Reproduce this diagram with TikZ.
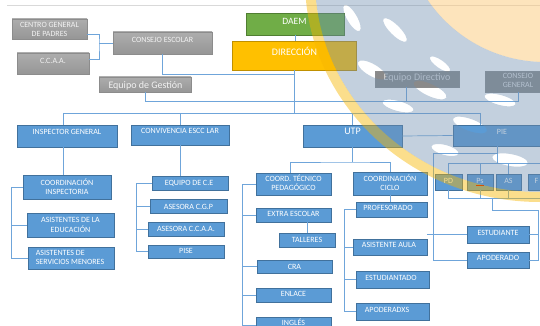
\documentclass[tikz,border=0pt]{standalone}
\usepackage{fontspec}
\setmainfont{Carlito}
\definecolor{bbf}{HTML}{5B9BD5}
\definecolor{bbd}{HTML}{41719C}
\definecolor{lnc}{HTML}{6FA5DA}
\definecolor{gtop}{HTML}{ADADAD}
\definecolor{gbot}{HTML}{969696}
\definecolor{gbd}{HTML}{8C8C8C}
\definecolor{gdk}{HTML}{8A8A8A}
\definecolor{daemc}{HTML}{70AD47}
\definecolor{daemd}{HTML}{507E32}
\definecolor{dirc}{HTML}{FFC000}
\definecolor{dird}{HTML}{C09000}
\definecolor{wmblue}{HTML}{6F8FB0}
\definecolor{wmyel}{HTML}{F7B500}
\definecolor{wmsun}{HTML}{FBC97A}
\definecolor{topln}{HTML}{D9D9D9}
\newcommand\obox[6]{\node[#2, minimum width={(#5)-(#3)}, minimum height={(#6)-(#4)}] (#1) at ({((#3)+(#5))/2},{((#4)+(#6))/2}) {};}
\begin{document}
\begin{tikzpicture}[x=1pt,y=-1pt,
  ln/.style={draw=lnc, line width=0.7pt},
  bbox/.style={draw=bbd, fill=bbf, line width=0.6pt, inner sep=0pt},
  gbox/.style={draw=gbd, top color=gtop, bottom color=gbot, line width=0.4pt, inner sep=0pt},
  dbox/.style={draw=gbd, fill=gdk, line width=0.4pt, inner sep=0pt},
  greenbox/.style={draw=daemd, fill=daemc, line width=0.6pt, inner sep=0pt},
  orangebox/.style={draw=dird, fill=dirc, line width=0.6pt, inner sep=0pt},
  lbl/.style={text=white, inner sep=0pt, font=\fontsize{8}{9.3}\selectfont, align=center, text height=5.1pt, text depth=0pt},
  lbl2/.style={text=white, inner sep=0pt, font=\fontsize{8}{9.3}\selectfont, align=center},
  big/.style={text=white, inner sep=0pt, font=\fontsize{10}{12}\selectfont, text height=6.4pt, text depth=0pt}
]
\useasboundingbox (0,0) rectangle (540,326);
\clip (0,0) rectangle (540,326);
\draw[topln, line width=0.8pt] (7,5) -- (540,5);

% ---------- boxes ----------
\obox{cgp}{gbox}{12}{19}{87}{39}
\obox{ccaa}{gbox}{17}{53}{89}{74}
\obox{ce}{gbox}{113}{32}{212}{54}
\obox{eg}{gbox}{99}{77}{191}{92}
\obox{daem}{greenbox}{246}{13}{344}{35}
\obox{dir}{orangebox}{232}{41}{356}{70}
\obox{ed}{dbox}{375}{71}{459}{87}
\obox{cg}{dbox}{485}{71}{551}{92}
\obox{ig}{bbox}{17}{125}{117}{147}
\obox{cv}{bbox}{131}{125}{229}{145}
\obox{utp}{bbox}{303}{125}{402}{147}
\obox{pie}{bbox}{453}{125}{551}{146}
\obox{ci}{bbox}{23}{175}{111}{199}
\obox{ae}{bbox}{27}{213}{114}{237}
\obox{asm}{bbox}{28}{247}{114}{269}
\obox{ece}{bbox}{152}{176}{228}{190}
\obox{acgp}{bbox}{150}{199}{227}{213}
\obox{acc}{bbox}{148}{222}{224}{236}
\obox{pise}{bbox}{148}{245}{224}{258}
\obox{ctp}{bbox}{256}{173}{331}{195}
\obox{cc}{bbox}{353}{172}{427}{195}
\obox{prof}{bbox}{356}{202}{427}{217}
\obox{ee}{bbox}{256}{208}{331}{222}
\obox{tal}{bbox}{279}{233}{335}{247}
\obox{cra}{bbox}{257}{260}{332}{273}
\obox{enl}{bbox}{256}{288}{331}{302}
\obox{ing}{bbox}{256}{317}{331}{333}
\obox{aa}{bbox}{353}{239}{427}{255}
\obox{est}{bbox}{356}{271}{429}{288}
\obox{apx}{bbox}{356}{303}{429}{320}
\obox{pd}{bbox}{435}{174}{462}{190}
\obox{ps}{bbox}{467}{174}{493}{190}
\obox{as}{bbox}{496}{174}{521}{190}
\obox{fb}{bbox}{528}{174}{560}{190}
\obox{stu}{bbox}{467}{226}{529}{243}
\obox{apo}{bbox}{467}{252}{529}{268}

% ---------- labels ----------
\node[lbl2, text=white!95!black] (cgpT) at (49.5,29.5) {CENTRO GENERAL\\DE PADRES};
\node[lbl, text=white!95!black] (ccaaT) at (53,61) {C.C.A.A.};
\node[lbl, text=white!95!black] (ceT) at (162.5,39.5) {CONSEJO ESCOLAR};
\node[big, text=white!95!black] (egT) at (145.5,85) {Equipo de Gestión};
\node[big, font=\fontsize{9.6}{11}\selectfont] (daemT) at (294.5,21) {DAEM};
\node[big] (dirT) at (294.5,52) {DIRECCIÓN};
\node[big, text=white!85!black] (edT) at (417,77.5) {Equipo Directivo};
\node[lbl2, text=white!90!black] (cgT) at (518,80.7) {CONSEJO\\GENERAL};
\node[lbl] (igT) at (67,132) {INSPECTOR GENERAL};
\node[lbl] (cvT) at (180,131.3) {CONVIVENCIA ESCC LAR};
\node[big] (utpT) at (352.5,131.7) {UTP};
\node[lbl] (pieT) at (502,131.7) {PIE};
\node[lbl2] (ciT) at (67,187) {COORDINACIÓN\\INSPECTORIA};
\node[lbl2] (aeT) at (70.5,225) {ASISTENTES DE LA\\EDUCACIÓN};
\node[lbl2, align=left] (asmT) at (70,257.5) {ASISTENTES DE\\SERVICIOS MENORES};
\node[lbl] (eceT) at (189,183) {EQUIPO DE C.E};
\node[lbl] (acgpT) at (188.5,206.5) {ASESORA C.G.P};
\node[lbl] (accT) at (186,229.3) {ASESORA C.C.A.A.};
\node[lbl] (piseT) at (186,251) {PISE};
\node[lbl2] (ctpT) at (293.5,183) {COORD. TÉCNICO\\PEDAGÓGICO};
\node[lbl2] (ccT) at (390,183) {COORDINACIÓN\\CICLO};
\node[lbl] (profT) at (388,208.3) {PROFESORADO};
\node[lbl] (eeT) at (293.5,214.3) {EXTRA ESCOLAR};
\node[lbl] (talT) at (307,240) {TALLERES};
\node[lbl] (craT) at (294.5,267) {CRA};
\node[lbl] (enlT) at (293.5,294.3) {ENLACE};
\node[lbl] (ingT) at (293.5,322.7) {INGLÉS};
\node[lbl] (aaT) at (389,245.3) {ASISTENTE AULA};
\node[lbl] (estT) at (391,277.7) {ESTUDIANTADO};
\node[lbl] (apxT) at (387,310.3) {APODERADXS};
\node[lbl] (pdT) at (448.5,180.7) {PD};
\node[lbl] (psT) at (480,180.7) {Ps};
\node[lbl] (asT) at (508.5,180.7) {AS};
\node[lbl, anchor=west] (fbT) at (534.5,180.7) {F};
\node[lbl] (stuT) at (498,232.7) {ESTUDIANTE};
\node[lbl] (apoT) at (498,258.3) {APODERADO};
\draw[red!75!black, line width=0.6pt] ([yshift=-1.6pt]psT.south west) -- ([yshift=-1.6pt]psT.south east);

% ---------- connectors ----------
\coordinate (kb) at (99,43.3);
\draw[ln] ([yshift=5pt]cgp.south east) -| (kb) |- ([yshift=-7pt]ccaa.north east);
\draw[ln] (kb) -- (kb -| ce.west);
\coordinate (j74) at (294,74);
\coordinate (j101) at (294,101);
\draw[ln] (ce.south) |- (j74);
\draw[ln] (eg.south) |- (cg.south |- j101) -- (cg.south);
\draw[ln] ([xshift=-11pt]ed.south) -- ([xshift=-11pt]ed.south |- j101);
\draw[ln] (daem.south) -- (daem.south |- dir.north);
\coordinate (busL) at (63,113);
\coordinate (busR) at (480,113);
\draw[ln] (dir.south) -- (dir.south |- busL);
\draw[ln] (busL) -- (busR);
\draw[ln] (busL) -- (busL |- ig.north);
\draw[ln] (cv.north |- busL) -- (cv.north);
\draw[ln] (utp.north |- busL) -- (utp.north);
\draw[ln] (busR) -- (busR |- pie.north);
\draw[ln] (utp.east) -- (pie.west);
\draw[ln] (busL |- ig.south) -- (busL |- ci.north);
\draw[ln] (ci.west) -- ++(-11,0) |- (asm.west);
\draw[ln] (ae.west) -- ++(-15,0);
\draw[ln] (cv.south) -- (cv.south |- ece.north);
\draw[ln] (ece.west) -- ++(-15,0) |- (pise.west);
\draw[ln] (acgp.west) -- ++(-13,0);
\draw[ln] (acc.west) -- ++(-11,0);
\coordinate (ub) at (350,162);
\draw[ln] (utp.south) -- (utp.south |- ub);
\draw[ln] ([xshift=-3.5pt]ctp.north) |- (ub) -| (cc.north);
\draw[ln] (cc.south) -- (cc.south |- prof.north);
\draw[ln] (ctp.west) -- ++(-13,0) |- (ing.west);
\draw[ln] (ee.west) -- ++(-13,0);
\draw[ln] (cra.west) -- ++(-14,0);
\draw[ln] (enl.west) -- ++(-13,0);
\draw[ln] (ee.south -| tal.north) -- (tal.north);
\draw[ln] (prof.west) -- ++(-11,0) |- (apx.west);
\draw[ln] (aa.west) -- ++(-8,0);
\draw[ln] (est.west) -- ++(-11,0);
\coordinate (pb) at (497,163);
\draw[ln] (pb |- pie.south) -- (pb);
\draw[ln] (pd.north) |- (fb.north |- pb) -- (fb.north);
\draw[ln] (ps.north) -- (ps.north |- pb);
\draw[ln] (as.north) -- (as.north |- pb);
\coordinate (qb) at (492,198);
\coordinate (qr) at (538,210);
\draw[ln] (pd.south) |- (fb.south |- qb) -- (fb.south);
\draw[ln] (ps.south) -- (ps.south |- qb);
\draw[ln] (as.south) -- (as.south |- qb);
\draw[ln] (qb) |- (qr) |- (apo.east);
\draw[ln] (stu.east) -- (stu.east -| qr);
\coordinate (lb) at (433,153);
\draw[ln] (pb |- lb) -- (lb) |- (apo.west);
\draw[ln] (aa.east |- stu.west) -- (stu.west);

% ---------- watermark ----------
\begin{scope}[even odd rule]
\fill[wmsun, opacity=0.5] (545,-80) circle[radius=142];
\fill[wmblue, opacity=0.42] (540,-20) circle[x radius=225, y radius=212] (545,-80) circle[radius=142]
  (352,18) circle[x radius=15, y radius=5, rotate=-60]
  (372,70) circle[x radius=16, y radius=6, rotate=-30]
  (395,30) circle[x radius=16, y radius=5, rotate=-45]
  (398,106) circle[x radius=16, y radius=5, rotate=-15]
  (430,90) circle[x radius=18, y radius=6, rotate=-25]
  (440,64) circle[x radius=12, y radius=4, rotate=-35]
  (445,150) circle[x radius=14, y radius=5, rotate=-15]
  (470,125) circle[x radius=18, y radius=6, rotate=-20]
  (500,100) circle[x radius=16, y radius=5, rotate=-15]
  (510,160) circle[x radius=18, y radius=6, rotate=-10];
\fill[wmyel, opacity=0.45] (540,-20) circle[x radius=235, y radius=222] (540,-20) circle[x radius=225, y radius=212];
\end{scope}
\end{tikzpicture}
\end{document}
